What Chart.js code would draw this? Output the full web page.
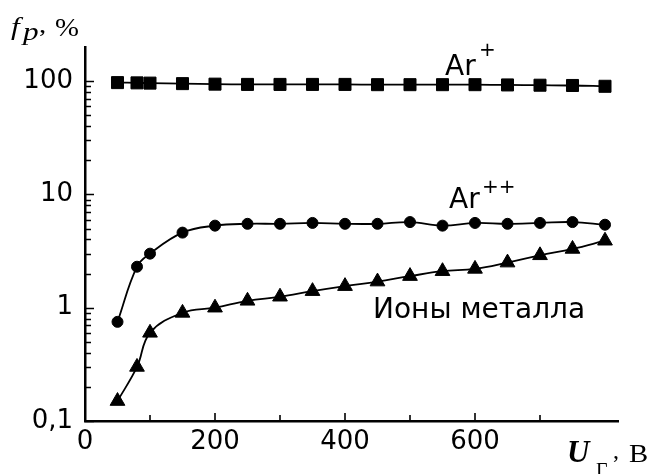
<!DOCTYPE html>
<html>
<head>
<meta charset="utf-8">
<script src="https://cdn.jsdelivr.net/npm/chart.js@4.4.0/dist/chart.umd.min.js"></script>
<style>
    html, body { margin: 0; padding: 0; background: #fff; }
    #wrap { width: 662px; height: 474px; }
</style>
</head>
<body>
<div id="wrap"><canvas id="chart" width="662" height="474"></canvas></div>
<script>
// U_г, V
const voltages = [50, 80, 100, 150, 200, 250, 300, 350, 400, 450, 500, 550, 600, 650, 700, 750, 800];
// f_p, %
const arPlus = [97, 96.5, 96, 95, 94, 93.5, 93.5, 93.5, 93.5, 93, 93, 93, 93, 92.5, 92, 91.5, 90];
const arPlusPlus = [0.75, 2.3, 3.0, 4.6, 5.3, 5.5, 5.5, 5.6, 5.5, 5.5, 5.7, 5.3, 5.6, 5.5, 5.6, 5.7, 5.4];
const metalIons = [0.15, 0.3, 0.6, 0.9, 1.0, 1.15, 1.25, 1.4, 1.55, 1.7, 1.9, 2.1, 2.2, 2.5, 2.9, 3.3, 3.9];

const xTicks = [0, 100, 200, 300, 400, 500, 600, 700];
const xLabels = [0, 200, 400, 600];
const yLabels = [0.1, 1, 10, 100];

const toPoints = vals => vals.map((v, i) => ({ x: voltages[i], y: v }));

function series(vals, style, radius) {
    return {
        data: toPoints(vals),
        borderColor: '#000',
        borderWidth: 1.8,
        pointStyle: style,
        pointRadius: radius,
        pointBackgroundColor: '#000',
        pointBorderColor: '#000',
        pointBorderWidth: 1,
        tension: 0.4,
        clip: false
    };
}

// text drawn with a horizontal stretch, like the original figure
function stretchText(ctx, text, x, y, sx) {
    ctx.save();
    ctx.translate(x, y);
    ctx.scale(sx, 1);
    ctx.fillText(text, 0, 0);
    ctx.restore();
}

// inward tick marks + text labels
const decorPlugin = {
    id: 'decor',
    afterDraw(chart) {
        const { ctx, chartArea: a, scales: { x, y } } = chart;
        ctx.save();
        ctx.strokeStyle = '#000';
        ctx.lineWidth = 1.6;
        ctx.beginPath();
        xTicks.forEach(v => {
            const px = Math.round(x.getPixelForValue(v));
            const len = xLabels.includes(v) ? 8 : 6;
            ctx.moveTo(px, a.bottom);
            ctx.lineTo(px, a.bottom - len);
        });
        yLabels.forEach(d => {
            const ks = d === 100 ? [1] : [1, 2, 3, 4, 5, 6, 7, 8, 9];
            ks.forEach(k => {
                const py = Math.round(y.getPixelForValue(d * k)) + 0.5;
                const len = k === 1 ? 9 : 6;
                ctx.moveTo(a.left, py);
                ctx.lineTo(a.left + len, py);
            });
        });
        ctx.stroke();

        ctx.fillStyle = '#000';
        ctx.textBaseline = 'alphabetic';
        ctx.textAlign = 'left';

        // series labels
        ctx.font = '28px "DejaVu Sans"';
        ctx.fillText('Ar', 445, 75);
        ctx.fillText('Ar', 449, 208);
        ctx.fillText('Ионы металла', 373, 318);
        ctx.font = '20px "DejaVu Sans"';
        ctx.fillText('+', 479, 56);
        ctx.fillText('++', 482, 193);

        // axis titles
        ctx.font = 'italic 26px "Liberation Serif"';
        stretchText(ctx, 'f', 11, 35, 1.2);
        stretchText(ctx, 'p', 23, 40, 1.2);
        ctx.font = '24px "Liberation Serif"';
        stretchText(ctx, ',', 39, 32, 1.2);
        ctx.font = '25px "Liberation Serif"';
        stretchText(ctx, '%', 55, 36, 1.15);

        ctx.font = 'bold italic 31px "Liberation Serif"';
        ctx.fillText('U', 567, 462);
        ctx.font = '20px "Liberation Serif"';
        ctx.fillText('Г', 596, 477);
        ctx.font = '24px "Liberation Serif"';
        ctx.fillText(',', 613, 458);
        ctx.font = '25px "Liberation Serif"';
        stretchText(ctx, 'В', 629, 462, 1.15);
        ctx.restore();
    }
};

const ctx = document.getElementById('chart').getContext('2d');
new Chart(ctx, {
    type: 'line',
    data: {
        datasets: [
            series(arPlus, 'rect', 8.5),
            series(arPlusPlus, 'circle', 5.5),
            series(metalIons, 'triangle', 8.5)
        ]
    },
    options: {
        responsive: false,
        animation: false,
        devicePixelRatio: 1,
        layout: { padding: { left: 0, top: 47, right: 44, bottom: 0 } },
        scales: {
            x: {
                type: 'linear',
                min: 0,
                max: 820,
                afterBuildTicks: (scale) => { scale.ticks = xTicks.map(v => ({ value: v })); },
                afterFit: (scale) => { scale.height = 53; },
                ticks: {
                    color: '#000',
                    font: { family: 'DejaVu Sans', size: 26 },
                    padding: 6,
                    maxRotation: 0,
                    autoSkip: false,
                    callback: (v) => xLabels.includes(v) ? String(v) : ''
                },
                grid: { display: true, drawOnChartArea: false, drawTicks: false },
                border: { color: '#000', width: 2.5 }
            },
            y: {
                type: 'logarithmic',
                min: 0.1,
                max: 200,
                afterBuildTicks: (scale) => { scale.ticks = yLabels.map(v => ({ value: v })); },
                afterFit: (scale) => { scale.width = 85; },
                ticks: {
                    color: '#000',
                    font: { family: 'DejaVu Sans', size: 26 },
                    padding: 12,
                    autoSkip: false,
                    callback: (v) => String(v).replace('.', ',')
                },
                grid: { display: true, drawOnChartArea: false, drawTicks: false },
                border: { color: '#000', width: 2.5 }
            }
        },
        plugins: {
            legend: { display: false },
            tooltip: { enabled: false }
        }
    },
    plugins: [decorPlugin]
});
</script>
</body>
</html>
